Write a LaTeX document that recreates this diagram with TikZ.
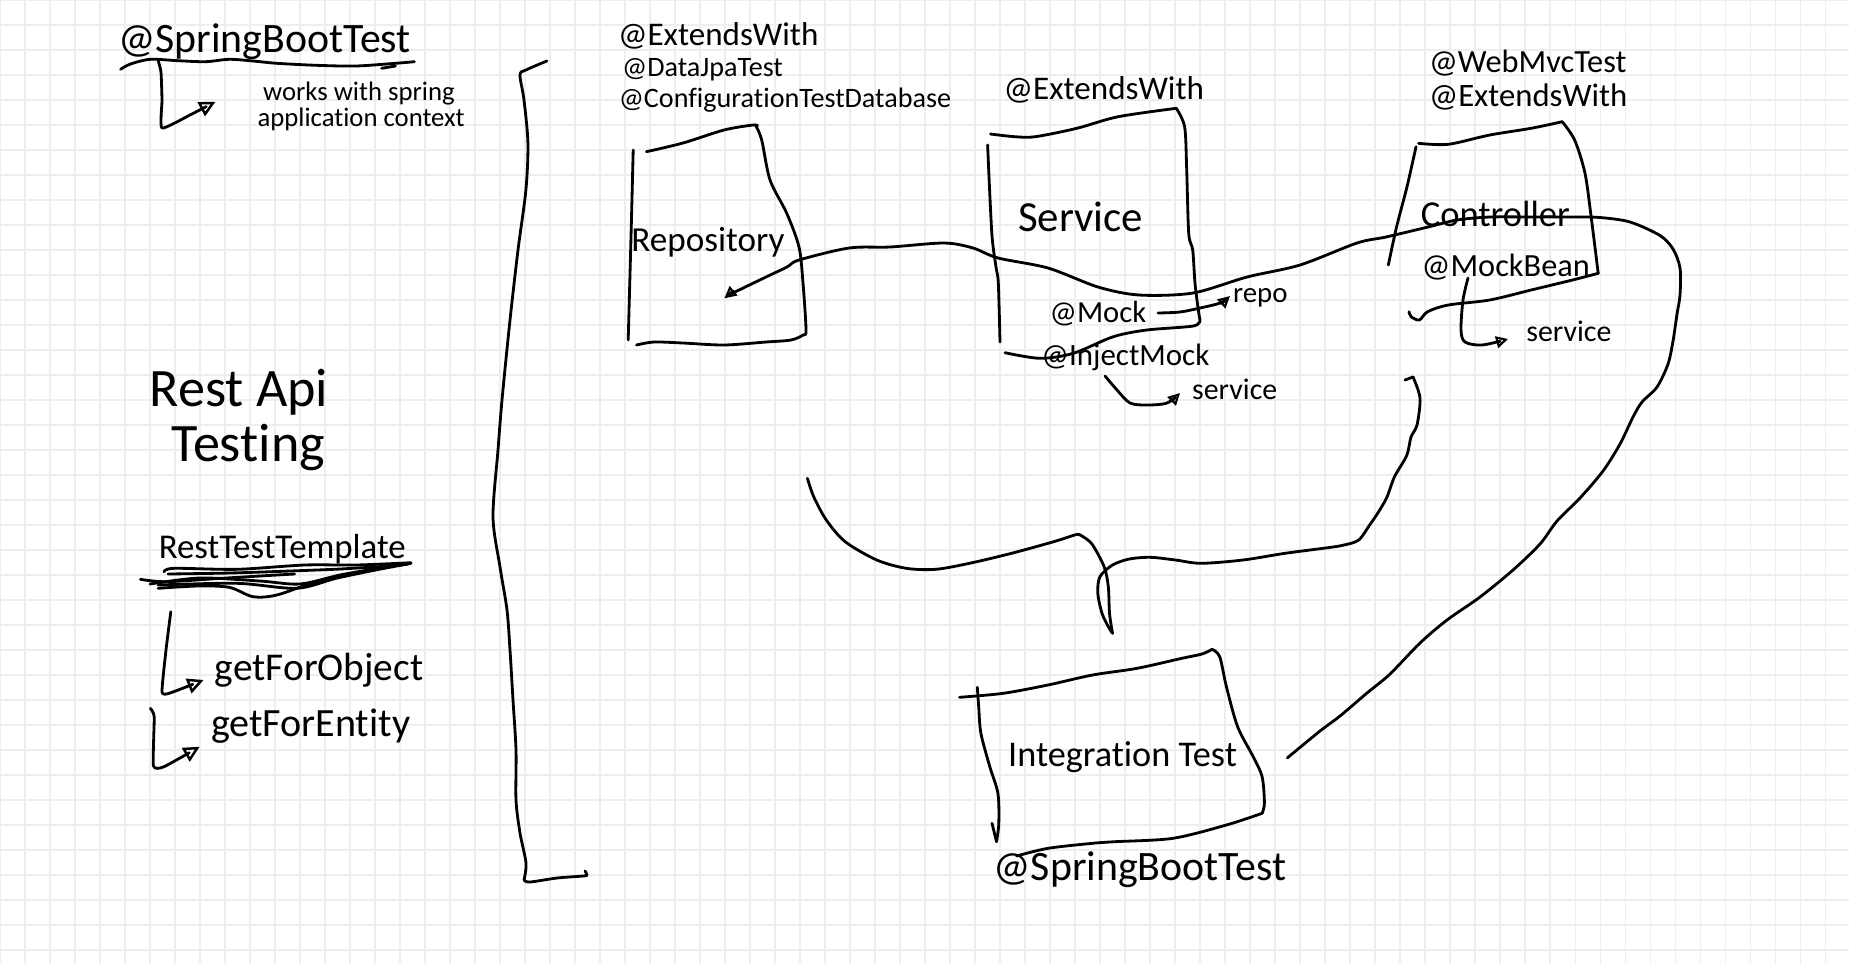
\documentclass[tikz,border=0pt]{standalone}
\usepackage{fontspec}
\setmainfont{Carlito}[Ligatures=NoCommon]
\usetikzlibrary{arrows.meta}
\newcommand{\penfont}[1]{\fontsize{#1}{#1}\selectfont}

\begin{document}
\begin{tikzpicture}[x          = {(0.01cm,0cm)},
                    y          = {(0cm,-0.01cm)},
                    line width = 0.8pt,
                    line cap   = round,
                    line join  = round]
% styles
\tikzset{gridline/.style={draw=gray!13,line width=0.3pt},
         txt/.style={anchor=base west,inner sep=0pt},
         tip/.style={-{Triangle[open,length=4.6pt,width=4.4pt,line width=0.7pt]}},
         smalltip/.style={-{Triangle[open,length=3.4pt,width=3.4pt,line width=0.6pt]}},
         backtip/.style={{Triangle[open,length=3.4pt,width=3.4pt,line width=0.6pt]}-}}
% paper with grid
\useasboundingbox (0,0) rectangle (1849,963);
\fill[white] (0,0) rectangle (1849,963);
\foreach \gx in {0,25,...,1825} \draw[gridline] (\gx,0) -- (\gx,963);
\foreach \gy in {0,25,...,950} \draw[gridline] (0,\gy) -- (1849,\gy);

% left column
\node[txt,font=\penfont{11.9}] (sbtop) at (116.6,52.7) {@SpringBootTest};
\draw plot[smooth] coordinates {(120.6,69.3) (130.5,64) (150.3,59.3) (178,60.7) (205.6,61.7)
  (229.3,59.3) (253,61) (276.8,63.3) (316.3,65.3) (355.9,66) (395.4,63.3) (414.4,61.7)};
\draw (381.6,68.3) -- (395.4,66);
\draw[tip] plot[smooth,tension=0.3] coordinates {(158,60) (161,72) (162,100) (162,128) (190,115) (215.5,101.7)};
\node[txt,font=\penfont{7.6}] (ctx1) at (261.8,100) {works with spring};
\node[txt,font=\penfont{7.6}] (ctx2) at (256.2,126.7) {application context};

\node[txt,font=\penfont{15.4}] (rest1) at (148.3,406) {Rest Api};
\node[txt,font=\penfont{15.4}] (rest2) at (170,461.7) {Testing};

\node[txt,font=\penfont{9.9}] (rtt) at (157.4,558.3) {RestTestTemplate};
% scribble under the template
\draw plot[smooth] coordinates {(164,571.7) (174,568.3) (237,569.3) (304.5,565) (356,565) (411,562.7)};
\draw plot[smooth] coordinates {(140.4,579.3) (166,581.7) (221.4,578.3) (276.8,575) (294.6,574)};
\draw plot[smooth] coordinates {(158.2,588.3) (197.7,586) (229.3,587.3) (253,596.7) (276.8,595)
  (316.3,581.7) (355.9,573.3) (395.4,565)};
\draw plot[smooth] coordinates {(158,585) (237,583.3) (296.6,588.3) (336,578.3) (375.6,570) (411,563.3)};
\draw plot[smooth] coordinates {(150,584) (200,578) (260,581) (300,584) (340,575) (380,568) (408,564)};
\draw plot[smooth] coordinates {(168,574) (230,573) (290,571) (340,569) (390,566)};

\draw[tip] plot[smooth,tension=0.3] coordinates {(170.8,611.7) (166,650) (162,692) (170,693) (203.6,680)};
\node[txt,font=\penfont{11.2}] (gfo) at (213.5,680) {getForObject};
\draw[tip] plot[smooth,tension=0.3] coordinates {(150.3,708.3) (154.2,716.7) (153.4,765.7) (164,766.7) (199.7,746.7)};
\node[txt,font=\penfont{11.4}] (gfe) at (209.6,736.7) {getForEntity};

% bracket
\draw plot[smooth] coordinates {(546.9,61) (525.9,70) (520,75) (524,100) (527.9,143) (525.9,190)
  (518,250) (510,320) (502,400) (498,450) (493,517) (500,567) (507,610) (510,650) (513,700)
  (516,750) (516,800) (520,833) (526,863) (524,880)};
\draw plot[smooth] coordinates {(524,880) (530,882) (557,878) (583,876) (587,875) (585,871)};

% box "repository"
\node[txt,font=\penfont{9.4}] (ext1) at (616.6,45) {@ExtendsWith};
\node[txt,font=\penfont{8}] (djt) at (620.7,76.7) {@DataJpaTest};
\node[txt,font=\penfont{8}] (ctd) at (617.4,107.3) {@ConfigurationTestDatabase};
\draw plot[smooth] coordinates {(633.2,150) (631.1,233) (628.2,340)};
\draw plot[smooth] coordinates {(646.4,151.7) (683,143) (724,130) (753,125) (757.5,126)};
\draw plot[smooth] coordinates {(755.5,125) (761.7,140) (770,180) (786.6,213) (799,247) (803,283)
  (806,330) (803,335) (791,340) (766,342) (724,345) (683,343) (654,342) (636.5,345)};
\node[txt,font=\penfont{10}] (repo) at (629.9,251.7) {Repository};

% box "service"
\node[txt,font=\penfont{9.4}] (ext2) at (1002.2,99.3) {@ExtendsWith};
\draw plot[smooth] coordinates {(987.6,145) (991.8,233) (996,267) (998.3,283) (1000,342)};
\draw plot[smooth] coordinates {(990.5,134) (1014.6,136.7) (1035.3,136.7) (1076.8,128.3) (1118.2,116.7) (1176.3,108.3)};
\draw plot[smooth] coordinates {(1176.3,108.3) (1184.6,126.7) (1186.6,166.7) (1188.7,233.3) (1192.7,250)
  (1195,283.3) (1198.3,310) (1200,320)};
\draw plot[smooth] coordinates {(1200,320) (1193.3,326) (1146.7,330) (1113.3,336.7) (1073.3,353.3)
  (1040,358.3) (1005,352.7)};
\node[txt,font=\penfont{12.2}] (svc) at (1016.7,231.7) {Service};
\node[txt,font=\penfont{8.7}] (mock) at (1048.3,322.7) {@Mock};
\node[txt,font=\penfont{8.2}] (mockrepo) at (1231.7,302.7) {repo};
\draw[smalltip] plot[smooth] coordinates {(1158,313) (1180,312) (1200,308) (1220,303) (1230,296)};
\node[txt,font=\penfont{8.8}] (injm) at (1040,365) {@InjectMock};
\node[txt,font=\penfont{8.5}] (injsvc) at (1190.7,399.3) {service};
\draw[smalltip] plot[smooth] coordinates {(1105,376) (1117,390) (1130,403) (1147,405) (1167,403) (1180,393)};

% box "controller"
\node[txt,font=\penfont{9.2}] (wmt) at (1427.6,72.7) {@WebMvcTest};
\node[txt,font=\penfont{9.3}] (ext3) at (1427.6,106.7) {@ExtendsWith};
\draw plot[smooth] coordinates {(1418.5,143.3) (1448.3,144.3) (1489.7,135) (1531.1,128.3) (1562.2,121.7)};
\draw plot[smooth] coordinates {(1416,146.7) (1407,186.7) (1396.6,226.7) (1388.3,265)};
\draw plot[smooth] coordinates {(1562.2,121.7) (1574.6,140) (1585,173.3) (1591.1,216.7) (1595.3,250) (1598.2,273.3)};
\draw plot[smooth] coordinates {(1598.2,273.3) (1572.5,280) (1531.1,290) (1489.7,300) (1448.3,305)
  (1427.6,311.7) (1419.4,320) (1411.1,316.7) (1409,311.7)};
\node[txt,font=\penfont{10.4}] (ctrl) at (1419.4,226.7) {Controller};
\node[txt,font=\penfont{9.2}] (mb) at (1420.2,276.7) {@MockBean};
\node[txt,font=\penfont{8.5}] (mbsvc) at (1524.9,341.7) {service};
\draw[smalltip] plot[smooth] coordinates {(1468,278) (1463,300) (1461,330) (1465,342) (1482,345) (1508,339)};

% long line through the boxes
\draw[backtip] plot[smooth] coordinates {(724.4,298.3) (733,293) (766,277) (787,267) (799,260)
  (849,248) (890,247) (944,243) (973,248) (998,258) (1048,268) (1098,287) (1139,295) (1193,293)
  (1247,277) (1300,265) (1357,243) (1386,237) (1428,227) (1457,220) (1490,217) (1531,217)
  (1572,217) (1600,217.5) (1630,222) (1660,235.5) (1673,249) (1680,268) (1680,295) (1677,314)
  (1673,341) (1668,364) (1657,387) (1642,402) (1633,417) (1620,444) (1603,471) (1580,498)
  (1557,521) (1540,544) (1513,570) (1480,597) (1447,620) (1420,643) (1390,674) (1367,693)
  (1340,716) (1320,731) (1287.3,757.9)};

% arcs down to the integration test
\draw plot[smooth] coordinates {(807.4,478.3) (813.7,496.7) (826.3,520) (845.2,541.7) (876.8,560)
  (906.3,568.3) (935.7,569.3) (969.4,563.3) (1011.5,553.3) (1053.6,541.7) (1074.6,535) (1078.8,534.3)};
\draw plot[smooth] coordinates {(1078.8,534.3) (1091.4,543.3) (1104.1,566.7) (1108.3,586.7)
  (1109.5,613.3) (1112.5,633.3)};
\draw plot[smooth] coordinates {(1405,380) (1413,377)};
\draw plot[smooth] coordinates {(1413,377) (1420,398) (1417,425) (1411,437) (1406.7,455.5)
  (1394.5,476.7) (1386.7,497.6) (1377.6,513.3) (1370,524.4) (1358.7,540) (1344,545) (1330,547.4)
  (1285,553.3) (1243,560) (1201,563.3) (1175.6,560) (1150.4,557.3) (1129.3,559) (1112.5,565)
  (1099.9,576.7) (1097.8,593.3) (1102,613.3) (1108.3,626.7) (1112.5,633.3)};

% box "integration test"
\draw plot[smooth] coordinates {(959.5,697.3) (1003.2,693.3) (1047.9,685) (1092.5,675) (1137.1,668.3)
  (1181.8,658.3) (1201.9,654) (1212.1,649.3)};
\draw plot[smooth] coordinates {(977.3,687.3) (978.7,706.7) (980.9,733.3) (989.8,766.7) (997.9,793.3)
  (998.8,823.3) (996.5,841.7)};
\draw (996.5,841.7) -- (992,823.3);
\draw plot[smooth] coordinates {(1212.1,649.3) (1219.7,656.7) (1226.4,686.7) (1237.6,726.7)
  (1253.2,756.7) (1262.1,776.7) (1264.4,803.3) (1262.1,813.3)};
\draw plot[smooth] coordinates {(1262.1,813.3) (1226.4,825) (1172.9,838.3) (1114.8,841.7)
  (1092.5,843.3) (1047.9,848.3) (1016.6,856)};
\node[txt,font=\penfont{10.3}] (itest) at (1006.8,766.7) {Integration Test};
\node[txt,font=\penfont{11.9}] (sbbot) at (992.1,880) {@SpringBootTest};
\end{tikzpicture}
\end{document}
